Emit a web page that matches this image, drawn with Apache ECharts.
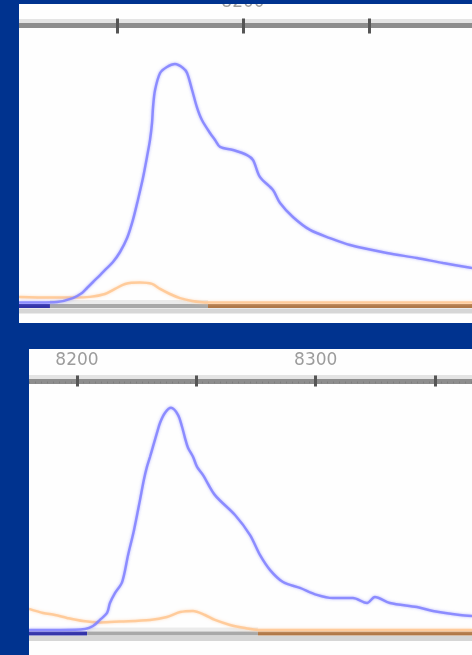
<!DOCTYPE html>
<html>
<head>
<meta charset="utf-8">
<script src="https://cdn.jsdelivr.net/npm/echarts@6/dist/echarts.min.js"></script>
<style>
html, body { margin: 0; padding: 0; background: #00338f; }
#chart { width: 472px; height: 655px; }
</style>
</head>
<body>
<div id="chart"></div>
<script>
// 刻度标签（每 100 一个标签，刻度间隔 50）
const topLabels = [8100, 8200, 8300];
const bottomLabels = [8200, 8300];

// 上图 —— 蓝色曲线 [x, 强度]
const topBlue = [
    [8111.1,1.5],[8119.4,1.5],[8126.2,1.7],[8132.5,3.3],[8136.1,5.4],[8138.1,7.5],[8140.5,10.0],
    [8143.3,12.9],[8146.0,15.8],[8148.4,18.3],[8151.2,22.5],[8154.0,28.3],[8156.3,35.8],[8158.3,44.2],
    [8160.3,53.3],[8161.9,62.1],[8163.1,69.2],[8163.9,76.3],[8164.3,82.9],[8165.1,90.0],[8167.1,97.1],
    [8169.8,99.6],[8173.0,100.8],[8176.2,99.2],[8177.8,97.1],[8179.8,90.0],[8181.7,82.9],[8183.7,77.5],
    [8186.9,72.1],[8188.9,69.2],[8190.9,66.3],[8196.0,65.0],[8201.6,62.9],[8204.0,60.8],[8206.7,53.8],
    [8211.9,48.3],[8214.7,42.9],[8219.8,37.1],[8226.6,31.7],[8234.5,28.3],[8242.5,25.4],[8257.1,22.1],
    [8269.0,20.0],[8279.4,17.9],[8290.9,15.8]
];
// 上图 —— 橙色曲线
const topOrange = [
    [8111.1,3.8],[8123.4,3.5],[8133.3,3.5],[8139.3,3.8],[8145.2,5.0],[8149.2,7.1],[8153.2,9.2],
    [8159.1,9.8],[8163.9,9.2],[8167.1,7.1],[8171.0,5.0],[8175.0,3.3],[8179.8,2.1],[8184.9,1.5],
    [8194.8,1.5],[8290.9,1.5]
];
// 上图基线分段：深蓝 / 灰 / 棕
const topBaseBreaks = [8111.1, 8123.4, 8186.1, 8290.9];
const topFloor = -2.1;

// 下图 —— 蓝色曲线
const bottomBlue = [
    [8179.9,1.6],[8192.9,1.6],[8203.4,2.0],[8206.7,3.3],[8209.6,6.0],[8212.6,9.1],[8213.8,13.5],
    [8215.9,17.9],[8218.9,22.8],[8221.4,34.8],[8223.9,45.9],[8226.4,59.2],[8228.0,68.0],[8229.3,73.8],
    [8230.6,78.3],[8231.8,82.7],[8233.5,88.9],[8234.8,93.4],[8236.9,97.8],[8239.4,100.0],[8242.3,96.9],
    [8244.0,91.6],[8245.2,86.8],[8246.5,82.3],[8248.6,78.3],[8250.3,73.8],[8252.8,70.2],[8257.8,61.3],
    [8266.2,52.5],[8272.5,43.6],[8276.7,34.7],[8280.9,28.1],[8286.3,22.8],[8293.4,20.2],[8300.5,17.1],
    [8307.2,15.7],[8315.6,15.7],[8321.5,13.5],[8324.8,16.2],[8331.1,13.5],[8342.4,11.7],[8349.1,10.0],
    [8360.4,8.2],[8365.5,7.8]
];
// 下图 —— 橙色曲线
const bottomOrange = [
    [8179.9,10.9],[8185.8,9.1],[8190.8,8.2],[8195.8,6.9],[8202.5,5.5],[8209.6,4.9],[8218.0,5.3],
    [8230.6,6.0],[8237.7,7.3],[8243.2,9.5],[8248.6,10.0],[8253.6,8.2],[8257.8,6.0],[8264.1,3.8],
    [8270.4,2.4],[8275.8,1.6],[8365.5,1.6]
];
const bottomBaseBreaks = [8179.9, 8204.2, 8275.8, 8365.5];
const bottomFloor = -2.2;

const BG = '#00338f';
const baseColors = ['#3434a8', '#a9a9a9', '#b07848'];

const chart = echarts.init(document.getElementById('chart'), null, { renderer: 'canvas' });

function xAxes(gridIndex, min, max, labels, margin, upLen, downLen, minor) {
    const common = {
        type: 'value', gridIndex: gridIndex, position: 'top',
        min: min, max: max, interval: 50,
        splitLine: { show: false }
    };
    return [
        Object.assign({}, common, {
            axisLine: { show: true, onZero: false,
                lineStyle: { color: '#8d8d8d', width: 5, shadowColor: '#e4e4e4', shadowOffsetY: -4 } },
            axisTick: { show: true, length: upLen, lineStyle: { color: '#555', width: 3 } },
            axisLabel: {
                show: true, margin: margin, color: '#9c9c9c', fontSize: 17,
                fontFamily: 'DejaVu Sans',
                formatter: v => labels.indexOf(v) >= 0 ? String(v) : ''
            }
        }),
        Object.assign({}, common, {
            axisLine: { show: false, onZero: false },
            axisTick: { show: true, inside: true, length: downLen, lineStyle: { color: '#555', width: 3 } },
            minorTick: { show: minor, splitNumber: 20, length: 2, lineStyle: { color: '#7e7e7e', width: 1 } },
            axisLabel: { show: false }
        })
    ];
}

function baseSeries(breaks, floor, xi, yi) {
    const list = [];
    list.push({
        type: 'line', xAxisIndex: xi, yAxisIndex: yi, symbol: 'none', silent: true, z: 1,
        lineStyle: { color: '#d6d6d6', width: 5 },
        data: [[breaks[0], floor], [breaks[breaks.length - 1], floor]]
    });
    for (let i = 0; i < breaks.length - 1; i++) {
        list.push({
            type: 'line', xAxisIndex: xi, yAxisIndex: yi, symbol: 'none', silent: true, z: 2,
            lineStyle: { color: baseColors[i], width: 4,
                shadowColor: i === 1 ? '#ebebeb' : 'transparent', shadowOffsetY: -4 },
            data: [[breaks[i], 0], [breaks[i + 1], 0]]
        });
    }
    return list;
}

function curve(data, color, glow, xi, yi, z) {
    return {
        type: 'line', xAxisIndex: xi, yAxisIndex: yi, symbol: 'none', silent: true, z: z,
        smooth: 0.3,
        lineStyle: { color: color, width: 2.5, opacity: 0.9, shadowColor: glow, shadowBlur: 3 },
        data: data
    };
}

const series = [].concat(
    baseSeries(topBaseBreaks, topFloor, 0, 0),
    [curve(topOrange, '#ffc893', 'rgba(255,210,170,0.8)', 0, 0, 3),
     curve(topBlue, '#8484ff', 'rgba(140,140,255,0.7)', 0, 0, 4)],
    baseSeries(bottomBaseBreaks, bottomFloor, 2, 1),
    [curve(bottomOrange, '#ffc893', 'rgba(255,210,170,0.8)', 2, 1, 3),
     curve(bottomBlue, '#8484ff', 'rgba(140,140,255,0.7)', 2, 1, 4)]
);

chart.setOption({
    backgroundColor: BG,
    animation: false,
    grid: [
        { left: -9, right: -23, top: 25.5, bottom: 325, containLabel: false, outerBoundsMode: 'none' },
        { left: -42.35, right: -82.4, top: 381.5, bottom: -1.07, containLabel: false, outerBoundsMode: 'none' }
    ],
    xAxis: [].concat(
        xAxes(0, 8100, 8300, topLabels, 14, 7, 8, false),
        xAxes(1, 8150, 8400, bottomLabels, 12, 6, 5, true)
    ),
    yAxis: [
        { type: 'value', gridIndex: 0, min: -10, max: 116.875, show: false },
        { type: 'value', gridIndex: 1, min: -10, max: 111.65, show: false }
    ],
    graphic: { elements: [
        // 白色面板
        { type: 'rect', z: -10, silent: true, shape: { x: 19, y: 4, width: 453, height: 319 }, style: { fill: '#fefefe' } },
        { type: 'rect', z: -10, silent: true, shape: { x: 29, y: 349, width: 443, height: 306 }, style: { fill: '#fefefe' } },
        // 蓝色边框遮罩
        { type: 'rect', z: 100, silent: true, shape: { x: 0, y: 0, width: 472, height: 4 }, style: { fill: BG } },
        { type: 'rect', z: 100, silent: true, shape: { x: 0, y: 0, width: 19, height: 323 }, style: { fill: BG } },
        { type: 'rect', z: 100, silent: true, shape: { x: 0, y: 323, width: 472, height: 26 }, style: { fill: BG } },
        { type: 'rect', z: 100, silent: true, shape: { x: 0, y: 323, width: 29, height: 332 }, style: { fill: BG } }
    ] },
    series: series
});
</script>
</body>
</html>
